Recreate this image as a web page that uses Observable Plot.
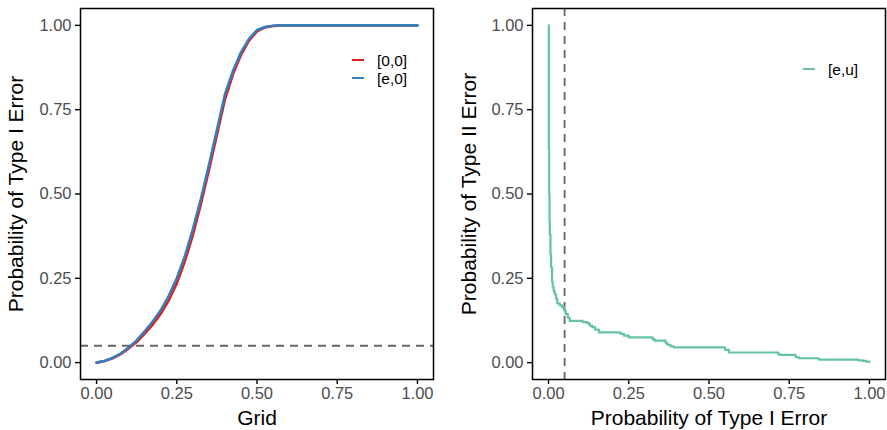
<!DOCTYPE html>
<html>
<head>
<meta charset="utf-8">
<script src="https://cdn.jsdelivr.net/npm/d3@7"></script>
<script src="https://cdn.jsdelivr.net/npm/@observablehq/plot@0.6"></script>
<style>
  body { margin: 0; background: #fff; font-family: "Liberation Sans", Arial, sans-serif; }
  #wrap { position: relative; width: 887px; height: 430px; display: flex; overflow: hidden; }
  .legend { position: absolute; font-size: 15.5px; color: #000; }
  .legend .row { display: flex; align-items: center; height: 18px; line-height: 15px; }
  .legend .sw { display: inline-block; width: 12px; height: 2.5px; margin-right: 13px; }
  svg [aria-label$="axis label"] { font-size: 21px; fill: #000; }
  svg [aria-label$="tick label"] { fill: #4d4d4d; }
</style>
</head>
<body>
<div id="wrap"></div>
<script>
// ---- data ----
const grid   = [0, 0.025, 0.05, 0.075, 0.1, 0.125, 0.15, 0.175, 0.2, 0.225, 0.25, 0.275, 0.3, 0.325, 0.35, 0.375, 0.4, 0.425, 0.45, 0.475, 0.5, 0.525, 0.55, 0.575, 0.6, 0.7, 0.8, 0.9, 1.0];
const err00  = [0, 0.005, 0.013, 0.025, 0.042, 0.061, 0.086, 0.113, 0.145, 0.185, 0.235, 0.300, 0.378, 0.470, 0.570, 0.675, 0.780, 0.855, 0.912, 0.955, 0.982, 0.994, 0.998, 1, 1, 1, 1, 1, 1];
const erre0  = [0, 0.005, 0.014, 0.027, 0.045, 0.066, 0.093, 0.122, 0.155, 0.198, 0.250, 0.315, 0.395, 0.485, 0.585, 0.690, 0.795, 0.865, 0.920, 0.960, 0.986, 0.995, 0.999, 1, 1, 1, 1, 1, 1];

const pTypeI  = [0, 0.001, 0.002, 0.003, 0.004, 0.006, 0.008, 0.011, 0.013, 0.016, 0.019, 0.023, 0.027, 0.035, 0.043, 0.048, 0.053, 0.060, 0.066, 0.106, 0.120, 0.128, 0.136, 0.145, 0.157, 0.224, 0.235, 0.250, 0.324, 0.330, 0.365, 0.370, 0.380, 0.390, 0.550, 0.562, 0.716, 0.720, 0.770, 0.780, 0.842, 0.965, 0.980, 0.990, 1.0];
const pTypeII = [1.0, 0.63, 0.50, 0.42, 0.38, 0.32, 0.282, 0.24, 0.225, 0.212, 0.203, 0.19, 0.176, 0.17, 0.164, 0.155, 0.144, 0.133, 0.124, 0.12, 0.117, 0.11, 0.105, 0.098, 0.09, 0.085, 0.08, 0.075, 0.07, 0.065, 0.058, 0.053, 0.048, 0.045, 0.038, 0.03, 0.025, 0.023, 0.016, 0.013, 0.009, 0.007, 0.005, 0.003, 0.002];

const alphaLevel = 0.05;
const axisTicks = [0, 0.25, 0.5, 0.75, 1];
const seriesNames  = ["[0,0]", "[e,0]", "[e,u]"];
const seriesColors = ["#E41A1C", "#377EB8", "#66C2A5"];

// ---- tables ----
const leftData = [
  ...grid.map((g, i) => ({ grid: g, p: err00[i], s: seriesNames[0] })),
  ...grid.map((g, i) => ({ grid: g, p: erre0[i], s: seriesNames[1] }))
];
const rightData = pTypeI.map((a, i) => ({ a, b: pTypeII[i], s: seriesNames[2] }));

const fmt = d3.format(".2f");
const base = {
  height: 430,
  marginTop: 8,
  marginBottom: 51,
  x: { domain: [-0.05, 1.05] },
  y: { domain: [-0.05, 1.05] },
  color: { domain: seriesNames, range: seriesColors },
  style: { fontFamily: '"Liberation Sans", Arial, sans-serif', fontSize: "16.5px", background: "white", color: "black", overflow: "visible" }
};
const dash = { stroke: "#666666", strokeWidth: 1.8, strokeDasharray: "8,6" };

const left = Plot.plot({
  ...base,
  width: 443, marginLeft: 80, marginRight: 10,
  marks: [
    Plot.ruleY([alphaLevel], dash),
    Plot.line(leftData, { x: "grid", y: "p", stroke: "s", strokeWidth: 2.6 }),
    Plot.frame({ stroke: "black", strokeWidth: 1.5 }),
    Plot.axisX({ ticks: axisTicks, tickFormat: fmt, tickSize: 5, tickPadding: 3, strokeWidth: 1.4, label: "Grid", labelAnchor: "center", labelOffset: 45, labelArrow: "none" }),
    Plot.axisY({ ticks: axisTicks, tickFormat: fmt, tickSize: 5, tickPadding: 4, strokeWidth: 1.4, label: "Probability of Type I Error", labelAnchor: "center", labelOffset: 72, labelArrow: "none" })
  ]
});

const right = Plot.plot({
  ...base,
  width: 444, marginLeft: 89, marginRight: 2,
  marks: [
    Plot.ruleX([alphaLevel], dash),
    Plot.line(rightData, { x: "a", y: "b", stroke: "s", strokeWidth: 2.2, curve: "step-after" }),
    Plot.frame({ stroke: "black", strokeWidth: 1.5 }),
    Plot.axisX({ ticks: axisTicks, tickFormat: fmt, tickSize: 5, tickPadding: 3, strokeWidth: 1.4, label: "Probability of Type I Error", labelAnchor: "center", labelOffset: 45, labelArrow: "none" }),
    Plot.axisY({ ticks: axisTicks, tickFormat: fmt, tickSize: 5, tickPadding: 4, strokeWidth: 1.4, label: "Probability of Type II Error", labelAnchor: "center", labelOffset: 71, labelArrow: "none" })
  ]
});

const wrap = document.getElementById("wrap");
wrap.appendChild(left);
wrap.appendChild(right);

function legend(names, colors, leftPx, topPx) {
  const div = document.createElement("div");
  div.className = "legend";
  div.style.left = leftPx + "px";
  div.style.top = topPx + "px";
  names.forEach((n, i) => {
    const row = document.createElement("div");
    row.className = "row";
    const sw = document.createElement("span");
    sw.className = "sw";
    sw.style.background = colors[i];
    const t = document.createElement("span");
    t.textContent = n;
    row.appendChild(sw); row.appendChild(t);
    div.appendChild(row);
  });
  wrap.appendChild(div);
}
legend(seriesNames.slice(0, 2), seriesColors.slice(0, 2), 352, 51);
legend(seriesNames.slice(2), seriesColors.slice(2), 803, 60);
</script>
</body>
</html>
